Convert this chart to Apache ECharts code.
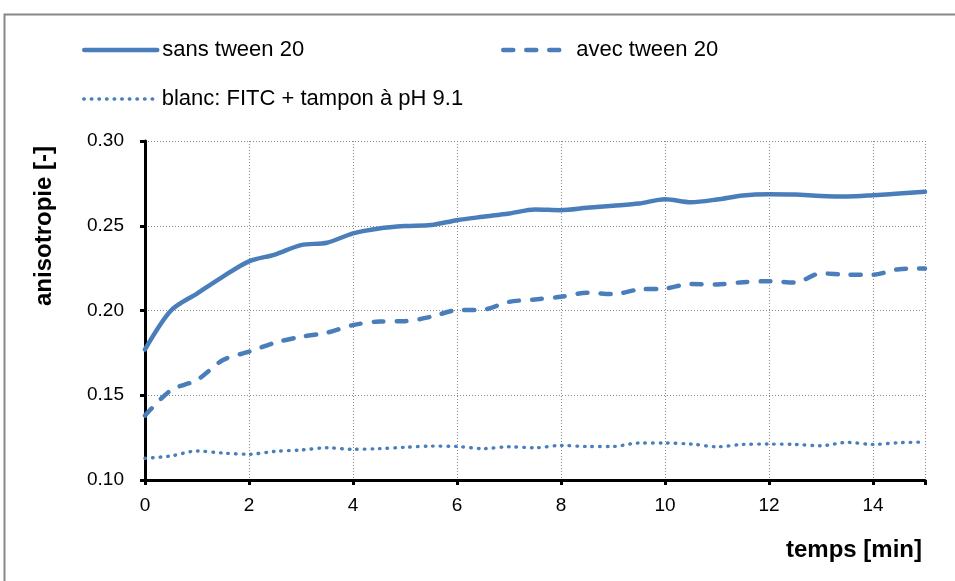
<!DOCTYPE html>
<html>
<head>
<meta charset="utf-8">
<script src="https://cdn.jsdelivr.net/npm/echarts@6/dist/echarts.min.js"></script>
<style>
  html, body { margin: 0; padding: 0; background: #fff; }
  #chart { width: 955px; height: 581px; }
</style>
</head>
<body>
<div id="chart"></div>
<script>
// Time points (min)
const temps = [0, 0.5, 1, 1.5, 2, 2.5, 3, 3.5, 4, 4.5, 5, 5.5, 6, 6.5, 7, 7.5,
  8, 8.5, 9, 9.5, 10, 10.5, 11, 11.5, 12, 12.5, 13, 13.5, 14, 14.5, 15];

// Anisotropy without tween 20
const sansTween = [0.177, 0.200, 0.210, 0.220, 0.229, 0.233, 0.2386, 0.240, 0.2455,
  0.2484, 0.2498, 0.2504, 0.2533, 0.2553, 0.2572, 0.2596, 0.2592, 0.2606, 0.2618,
  0.2631, 0.2657, 0.2639, 0.2655, 0.2679, 0.2686, 0.2684, 0.2676, 0.2673, 0.268,
  0.269, 0.270];

// Anisotropy with tween 20
const avecTween = [0.138, 0.153, 0.159, 0.1708, 0.1757, 0.181, 0.1845, 0.1869, 0.1914,
  0.1935, 0.1937, 0.1963, 0.2002, 0.2005, 0.2051, 0.2065, 0.2081, 0.2105, 0.2097,
  0.2124, 0.213, 0.2156, 0.2154, 0.2167, 0.2173, 0.2165, 0.2219, 0.2211, 0.2211,
  0.2244, 0.2248];

// Blank: FITC + buffer at pH 9.1
const blanc = [0.1128, 0.1142, 0.1171, 0.1159, 0.1152, 0.1169, 0.1177, 0.1190, 0.1181,
  0.1185, 0.1193, 0.1200, 0.1198, 0.1185, 0.1196, 0.1190, 0.1204, 0.1198, 0.1198,
  0.1218, 0.1218, 0.1212, 0.1196, 0.1210, 0.1212, 0.1210, 0.1202, 0.1222, 0.1210,
  0.1220, 0.1224];

const seriesNames = ['sans tween 20', 'avec tween 20', 'blanc: FITC + tampon à pH 9.1'];
const xTicks = [0, 2, 4, 6, 8, 10, 12, 14];
const yTicks = ['0.10', '0.15', '0.20', '0.25', '0.30'];

const blue = '#4A7EBB';
const font = '"Liberation Sans", Arial, sans-serif';

const pairs = (vals) => temps.map((t, i) => [t, vals[i]]);

const lineStyles = [
  { color: blue, width: 4.5, type: 'solid', cap: 'round', join: 'round' },
  { color: blue, width: 4.5, type: [10, 13], cap: 'round', join: 'round' },
  { color: blue, width: 3.4, type: [0.6, 7.0], cap: 'round', join: 'round' }
];

// Legend swatch offsets so the dashed sample shows three full dashes
const legendDashOffset = [0, -5, 0];

function legendFor(idx, left, top) {
  return {
    data: [seriesNames[idx]],
    left: left,
    top: top,
    orient: 'horizontal',
    itemWidth: 73,
    itemHeight: 14,
    itemGap: 5,
    selectedMode: false,
    itemStyle: { opacity: 0 },
    lineStyle: Object.assign({}, lineStyles[idx], { opacity: 1, dashOffset: legendDashOffset[idx] }),
    textStyle: { fontFamily: font, fontSize: 22, color: '#000' }
  };
}

const chart = echarts.init(document.getElementById('chart'), null, { renderer: 'canvas' });

chart.setOption({
  animation: false,
  backgroundColor: '#fff',
  grid: { left: 145, right: 30, top: 141, bottom: 101, containLabel: false },
  legend: [
    legendFor(0, 77, 34),
    legendFor(1, 491, 34),
    legendFor(2, 77, 83)
  ],
  xAxis: {
    type: 'value',
    min: 0,
    max: 15,
    interval: 2,
    axisLine: { show: true, onZero: false, lineStyle: { color: '#000', width: 3 } },
    axisTick: { show: true, length: 5, lineStyle: { color: '#000', width: 3 } },
    axisLabel: {
      color: '#000', fontFamily: font, fontSize: 19, margin: 16,
      formatter: (v) => (xTicks.indexOf(v) >= 0 ? String(v) : '')
    },
    splitLine: { show: true, lineStyle: { color: '#888', width: 1, type: [1, 2] } }
  },
  yAxis: {
    type: 'value',
    min: 0.10,
    max: 0.30,
    interval: 0.05,
    axisLine: { show: true, onZero: false, lineStyle: { color: '#000', width: 3 } },
    axisTick: { show: true, length: 5, lineStyle: { color: '#000', width: 3 } },
    axisLabel: {
      color: '#000', fontFamily: font, fontSize: 19, margin: 21,
      formatter: (v) => yTicks[Math.round((v - 0.10) / 0.05)]
    },
    splitLine: { show: true, lineStyle: { color: '#888', width: 1, type: [1, 2] } }
  },
  series: [
    { name: seriesNames[0], type: 'line', data: pairs(sansTween), symbol: 'none',
      smooth: 0.3, lineStyle: lineStyles[0], itemStyle: { color: blue }, z: 4 },
    { name: seriesNames[1], type: 'line', data: pairs(avecTween), symbol: 'none',
      smooth: 0.3, lineStyle: lineStyles[1], itemStyle: { color: blue }, z: 3 },
    { name: seriesNames[2], type: 'line', data: pairs(blanc), symbol: 'none',
      smooth: 0.3, lineStyle: lineStyles[2], itemStyle: { color: blue }, z: 2 }
  ],
  graphic: [
    {
      type: 'rect', silent: true, z: -10,
      shape: { x: 4.5, y: 14.5, width: 1000, height: 1000 },
      style: { fill: 'none', stroke: '#888', lineWidth: 2 }
    },
    {
      type: 'text', silent: true,
      x: 44, y: 226, rotation: Math.PI / 2,
      style: {
        text: 'anisotropie [-]', fontFamily: font, fontSize: 24, fontWeight: 'bold',
        fill: '#000', align: 'center', verticalAlign: 'middle'
      }
    },
    {
      type: 'text', silent: true,
      x: 922, y: 550,
      style: {
        text: 'temps [min]', fontFamily: font, fontSize: 24, fontWeight: 'bold',
        fill: '#000', align: 'right', verticalAlign: 'middle'
      }
    }
  ]
});
</script>
</body>
</html>
